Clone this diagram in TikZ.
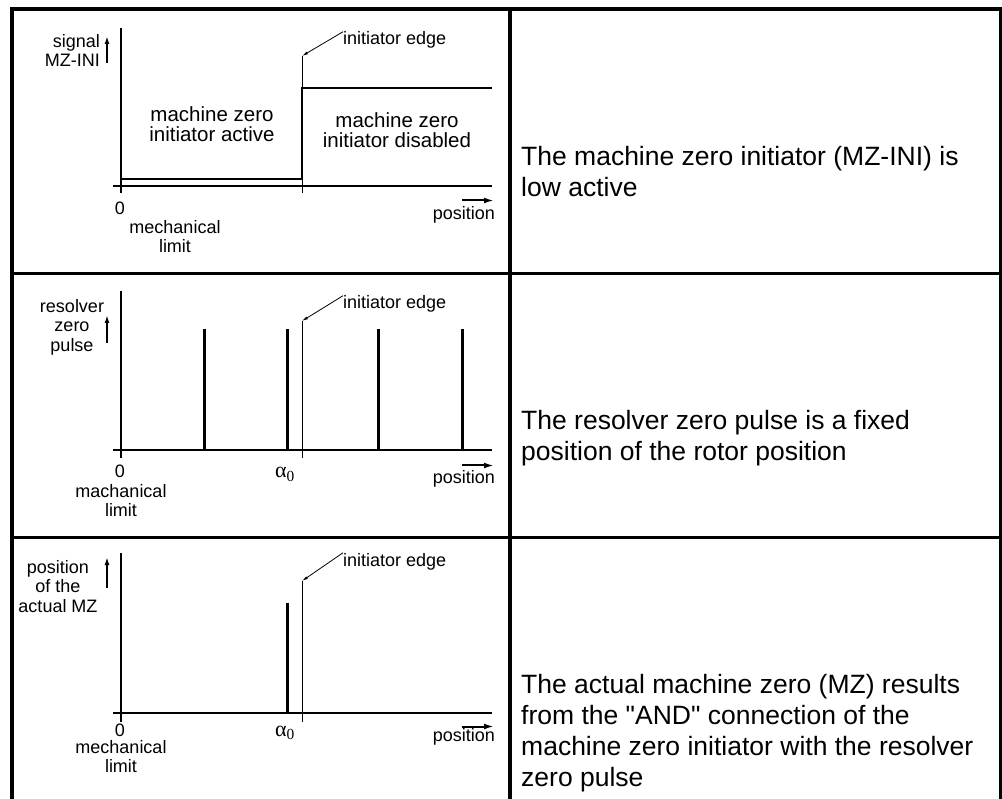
\documentclass[tikz,border=0pt]{standalone}
\usepackage{fontspec}
\setmainfont{Liberation Sans}[Ligatures=TeXOff]
\newfontfamily\greekfont{Liberation Serif}
\usetikzlibrary{arrows.meta}

\tikzset{
  frame/.style={line width=4.5pt},
  divider/.style={line width=3pt},
  axis/.style={line width=2pt},
  signal/.style={line width=2.5pt},
  pulse/.style={line width=3pt},
  edgeline/.style={line width=1pt},
  uparrow/.style={line width=2pt,-{Latex[length=8pt,width=5pt]}},
  posarrow/.style={line width=2pt,-{Latex[length=10pt,width=6pt]}},
  edgearrow/.style={line width=0.8pt,-{Latex[length=6pt,width=3pt]}},
  small/.style={font=\fontsize{18}{19.5}\selectfont,inner sep=0pt},
  big/.style={font=\fontsize{20.5}{20}\selectfont,align=center,inner sep=0pt},
  note/.style={font=\fontsize{26.5}{31}\selectfont,align=left,anchor=north west,inner sep=0pt}
}
\newcommand{\alphazero}{{\greekfont\fontsize{22}{22}\selectfont α\textsubscript{0}}}

\begin{document}
\begin{tikzpicture}[x=1pt,y=-1pt]
\useasboundingbox (0,0) rectangle (1002,799);
\fill[white] (0,0) rectangle (1002,799);

% table frame
\draw[frame] (9.75,9) -- (1001.5,9);
\draw[frame] (12,6.75) -- (12,799);
\draw[frame] (510,9) -- (510,799);
\draw[divider] (1000,9) -- (1000,799);
\draw[divider] (12,274) -- (1000,274);
\draw[divider] (12,537) -- (1000,537);

% panel 1: machine zero initiator
\draw[axis] (121,28) -- (121,193);
\draw[axis] (113,186) -- (492,186);
\draw[edgeline] (302,56) -- (302,193);
\draw[signal] (121,179) -- (302,179) -- (302,88) -- (492,88);
\node[small,anchor=base west] (edgeA) at (343,45) {initiator edge};
\coordinate (topA) at (302,56);
\draw[edgearrow] (edgeA.north west) -- (topA);
\node[big,anchor=north] (activeA) at (212,106.5) {machine zero\\initiator active};
\node[big,anchor=north] (disabledA) at (397,112) {machine zero\\initiator disabled};
\node[small,anchor=north east,align=right] (ylabelA) at (100,34) {signal\\MZ-INI};
\draw[uparrow] (107,63) -- (107,36);
\node[small,anchor=base] (zeroA) at (120,215) {0};
\node[small,anchor=north,align=center] (limitA) at (175,220) {mechanical\\limit};
\node[small,anchor=base east] (posA) at (495,220) {position};
\draw[posarrow] (462,200.5) -- (494,200.5);
\node[note] (noteA) at (521,146) {The machine zero initiator (MZ-INI) is\\low active};

% panel 2: resolver zero pulse
\draw[axis] (121,291) -- (121,458);
\draw[axis] (113,450) -- (492,450);
\foreach \x in {204,287,378,462}
  \draw[pulse] (\x,450) -- (\x,329);
\draw[edgeline] (302,321) -- (302,458);
\node[small,anchor=base west] (edgeB) at (343,309) {initiator edge};
\coordinate (topB) at (302,321);
\draw[edgearrow] (edgeB.north west) -- (topB);
\node[small,anchor=north,align=center] (ylabelB) at (72,299) {resolver\\zero\\pulse};
\draw[uparrow] (107,343) -- (107,315);
\node[small,anchor=base] (zeroB) at (120,478) {0};
\node[small,anchor=base] (alphaB) at (285,478) {\alphazero};
\node[small,anchor=north,align=center] (limitB) at (121,484) {machanical\\limit};
\node[small,anchor=base east] (posB) at (495,484) {position};
\draw[posarrow] (462,465.5) -- (494,465.5);
\node[note] (noteB) at (521,410.5) {The resolver zero pulse is a fixed\\position of the rotor position};

% panel 3: actual machine zero
\draw[axis] (121,553) -- (121,722);
\draw[axis] (113,713) -- (492,713);
\draw[pulse] (287,713) -- (287,603);
\draw[edgeline] (302,581) -- (302,722);
\node[small,anchor=base west] (edgeC) at (343,566) {initiator edge};
\coordinate (topC) at (302,581);
\draw[edgearrow] (edgeC.north west) -- (topC);
\node[small,anchor=north,align=center] (ylabelC) at (58,560) {position\\of the\\actual MZ};
\draw[uparrow] (107,588) -- (107,557);
\node[small,anchor=base] (zeroC) at (120,736) {0};
\node[small,anchor=base] (alphaC) at (285,736) {\alphazero};
\node[small,anchor=north,align=center] (limitC) at (121,740) {mechanical\\limit};
\node[small,anchor=base east] (posC) at (495,741) {position};
\draw[posarrow] (462,726.5) -- (494,726.5);
\node[note] (noteC) at (521,674.5) {The actual machine zero (MZ) results\\from the "AND" connection of the\\machine zero initiator with the resolver\\zero pulse};
\end{tikzpicture}
\end{document}
